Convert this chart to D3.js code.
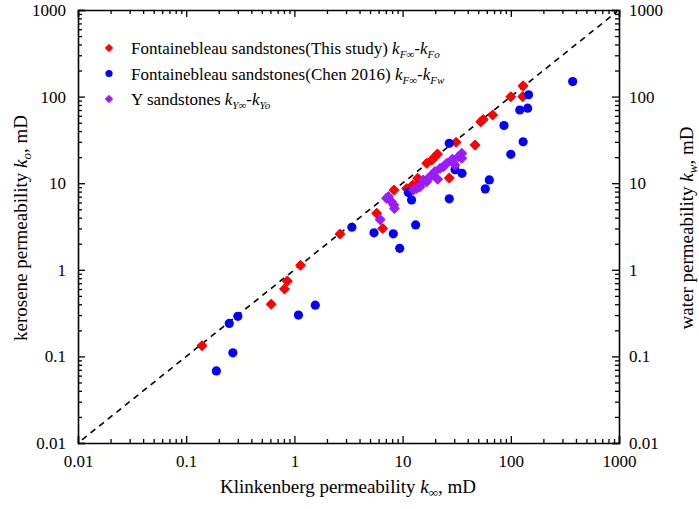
<!DOCTYPE html>
<html>
<head>
<meta charset="utf-8">
<script src="https://cdn.jsdelivr.net/npm/d3@7"></script>
<style>
  body { margin: 0; background: #fff; }
  svg, svg text { font-family: "Liberation Serif", "Times New Roman", serif; }
</style>
</head>
<body>
<svg id="chart" width="699" height="509"></svg>
<script>
// [k_inf, k] pairs, mD
const fontainebleauThis = [
  [0.14, 0.133], [0.61, 0.40], [0.81, 0.60], [0.86, 0.74], [1.14, 1.13],
  [2.64, 2.59], [5.76, 4.49], [6.55, 3.0], [8.33, 8.35], [10.9, 8.7],
  [12.4, 9.5], [13.8, 11.4], [14.2, 10.1], [16.7, 17.0], [18.6, 18.5],
  [19.9, 20.2], [21.0, 21.7], [27.0, 11.5], [31.2, 29.7], [46.7, 27.6],
  [52.7, 51.3], [55.7, 54.4], [68.0, 61.3], [100, 99.7], [129, 100], [130, 133]
];
const fontainebleauChen = [
  [0.19, 0.068], [0.25, 0.24], [0.27, 0.11], [0.30, 0.29], [1.09, 0.30],
  [1.56, 0.39], [3.4, 3.1], [5.44, 2.67], [8.2, 2.6], [9.4, 1.77],
  [11.3, 7.8], [12.1, 6.4], [13.2, 3.3], [27.0, 28.9], [27.0, 6.6],
  [30.5, 14.3], [35.4, 13.0], [58.1, 8.6], [63.3, 10.9], [86.5, 46.4],
  [100, 21.6], [121, 70], [130, 30.1], [143, 73.5], [146, 105], [373, 149]
];
const ySandstones = [
  [6.2, 3.8], [7.1, 6.7], [7.4, 7.0], [7.9, 6.1], [8.4, 5.1], [8.3, 5.6],
  [12.6, 8.35], [13.5, 8.7], [14.5, 9.1], [15.5, 10.9], [16.7, 10.4],
  [17.3, 11.4], [18.6, 12.4], [19.9, 13.6], [21.1, 11.1], [22.2, 14.9],
  [23.8, 15.5], [25.6, 17.0], [28.8, 18.9], [30.5, 16.2], [32.7, 20.2],
  [35.2, 19.4], [35.2, 22.1]
];
const decades = [0.01, 0.1, 1, 10, 100, 1000];
const decadeLabels = ["0.01", "0.1", "1", "10", "100", "1000"];

const width = 699, height = 509;
const margin = { top: 10, right: 80, bottom: 66, left: 78 };
const serif = '"Liberation Serif", "Times New Roman", serif';
const svg = d3.select("#chart");

const x = d3.scaleLog().domain([0.01, 1000]).range([margin.left, width - margin.right]);
const y = d3.scaleLog().domain([0.01, 1000]).range([height - margin.bottom, margin.top]);

let minor = [];
decades.slice(0, -1).forEach(d => { for (let i = 2; i < 10; i++) minor.push(d * i); });
const fmt = d => decadeLabels[decades.indexOf(d)];

function drawAxis(axisFn, scale, transform, padding) {
  svg.append("g").attr("transform", transform)
    .call(axisFn(scale).tickValues(minor).tickSize(-4).tickFormat(""))
    .call(g => g.select(".domain").remove());
  const g = svg.append("g").attr("transform", transform)
    .call(axisFn(scale).tickValues(decades).tickSize(-7).tickPadding(padding).tickFormat(fmt));
  g.attr("font-family", null).attr("font-size", null);
  g.selectAll("text")
    .style("font-family", serif).style("font-size", "17px").attr("fill", "#000");
  return g;
}

drawAxis(d3.axisBottom, x, `translate(0,${height - margin.bottom})`, 12);
drawAxis(d3.axisTop, x, `translate(0,${margin.top})`, 0).selectAll("text").remove();
drawAxis(d3.axisLeft, y, `translate(${margin.left},0)`, 12);
drawAxis(d3.axisRight, y, `translate(${width - margin.right},0)`, 10);

svg.selectAll(".tick line").attr("stroke", "#000").attr("stroke-width", 1.3);
svg.selectAll(".domain").attr("stroke", "#000").attr("stroke-width", 1.6);

// 1:1 line
svg.append("line")
  .attr("x1", x(0.0109)).attr("y1", y(0.0109))
  .attr("x2", x(960)).attr("y2", y(960))
  .attr("stroke", "#000").attr("stroke-width", 1.6).attr("stroke-dasharray", "6,5");

// square rotated 45 degrees -> equal-sided diamond
const diamond = d3.symbol().type(d3.symbolSquare).size(40);

function diamonds(data, color) {
  svg.append("g").selectAll("path").data(data).join("path")
    .attr("d", diamond)
    .attr("transform", d => `translate(${x(d[0])},${y(d[1])}) rotate(45)`)
    .attr("fill", color).attr("stroke", color).attr("stroke-width", 1.6)
    .attr("stroke-linejoin", "round");
}

diamonds(fontainebleauThis, "#ff0000");

svg.append("g").selectAll("circle").data(fontainebleauChen).join("circle")
  .attr("cx", d => x(d[0])).attr("cy", d => y(d[1])).attr("r", 4.6)
  .attr("fill", "#0000ff");

diamonds(ySandstones, "#9a1cff");

// legend
const legend = [
  { color: "#ff0000", shape: "diamond", text: "Fontainebleau sandstones(This study) ", s1: "F∞", s2: "Fo" },
  { color: "#0000ff", shape: "circle", text: "Fontainebleau sandstones(Chen 2016) ", s1: "F∞", s2: "Fw" },
  { color: "#9a1cff", shape: "diamond", text: "Y sandstones ", s1: "Y∞", s2: "Yo" }
];
const lg = svg.append("g");
legend.forEach((l, i) => {
  const cy = 48 + i * 25.5;
  if (l.shape === "circle") {
    lg.append("circle").attr("cx", 109).attr("cy", cy).attr("r", 3.6).attr("fill", l.color);
  } else {
    lg.append("path").attr("d", d3.symbol().type(d3.symbolSquare).size(22))
      .attr("transform", `translate(109,${cy}) rotate(45)`)
      .attr("fill", l.color).attr("stroke", l.color).attr("stroke-width", 1.3)
      .attr("stroke-linejoin", "round");
  }
  const t = lg.append("text").attr("x", 131).attr("y", cy + 6).style("font-size", "17px");
  t.append("tspan").text(l.text);
  t.append("tspan").attr("font-style", "italic").text("k");
  t.append("tspan").attr("font-style", "italic").attr("dy", 4).style("font-size", "11px").text(l.s1);
  t.append("tspan").attr("dy", -4).text("-");
  t.append("tspan").attr("font-style", "italic").text("k");
  t.append("tspan").attr("font-style", "italic").attr("dy", 4).style("font-size", "11px").text(l.s2);
});

// axis titles
function axisTitle(tx, ty, rot, pre, sub) {
  const t = svg.append("text")
    .attr("transform", `translate(${tx},${ty}) rotate(${rot})`)
    .attr("text-anchor", "middle").style("font-size", "19px");
  t.append("tspan").text(pre);
  t.append("tspan").attr("font-style", "italic").text("k");
  t.append("tspan").attr("dy", 4).style("font-size", "13px").attr("font-style", "italic").text(sub);
  t.append("tspan").attr("dy", -4).text(", mD");
}
axisTitle(348, 493, 0, "Klinkenberg permeability ", "∞");
axisTitle(27, 228, -90, "kerosene permeability ", "o");
axisTitle(693, 228, -90, "water permeability ", "w");
</script>
</body>
</html>
